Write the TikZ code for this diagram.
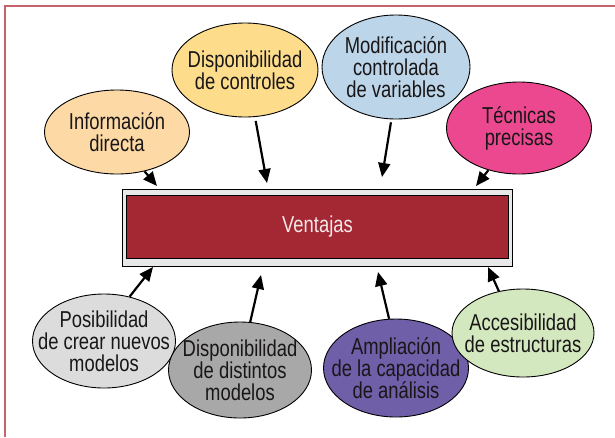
\documentclass[tikz,border=0pt]{standalone}
\usepackage{fontspec}
\setmainfont{Liberation Sans}[FakeStretch=0.8]
\usetikzlibrary{shapes.geometric,arrows.meta}
\definecolor{framered}{RGB}{200,98,110}
\definecolor{txtc}{RGB}{25,22,23}
\definecolor{cInfo}{RGB}{253,218,165}
\definecolor{cDispc}{RGB}{253,221,140}
\definecolor{cModif}{RGB}{189,213,232}
\definecolor{cTecn}{RGB}{236,72,143}
\definecolor{cPosib}{RGB}{220,220,220}
\definecolor{cDispd}{RGB}{168,168,168}
\definecolor{cAmpl}{RGB}{111,94,168}
\definecolor{cAcces}{RGB}{212,232,192}
\definecolor{cBoxOut}{RGB}{232,232,232}
\definecolor{cBoxIn}{RGB}{163,40,52}
\definecolor{cVent}{RGB}{245,232,232}
\begin{document}
\begin{tikzpicture}[x=1pt,y=-1pt,
  ell/.style={ellipse,draw=black,line width=0.9pt,inner sep=0pt},
  txt/.style={align=center,text=txtc,inner sep=0pt,font=\fontsize{23}{22}\selectfont},
  arr/.style={line width=2.2pt,-{Triangle[length=14pt,width=12pt]}}
]
\useasboundingbox (0,0) rectangle (615,437);
% frame
\draw[framered,line width=2pt] (4.5,437) -- (4.5,5.5) -- (615,5.5);
% main box
\node[draw=black,line width=0.8pt,fill=cBoxOut,minimum width=390pt,minimum height=77pt,inner sep=0pt] (box) at (317,227.5) {};
\node[draw=black,line width=0.8pt,fill=cBoxIn,minimum width=382pt,minimum height=63pt,inner sep=0pt,text=cVent,font=\fontsize{23}{22}\selectfont] (vent) at (317.5,226.5) {Ventajas};
% ellipses
\node[ell,fill=cInfo,minimum width=145pt,minimum height=84pt] (info) at (117,132) {};
\node[txt] at (info) {Información\\directa};
\node[ell,fill=cDispc,minimum width=146pt,minimum height=94pt] (dispc) at (245,70) {};
\node[txt] at (dispc) {Disponibilidad\\de controles};
\node[ell,fill=cModif,minimum width=148pt,minimum height=104pt] (modif) at (396,67) {};
\node[txt] at (modif) {Modificación\\controlada\\de variables};
\node[ell,fill=cTecn,minimum width=145pt,minimum height=92pt] (tecn) at (519,128) {};
\node[txt] at (tecn) {Técnicas\\precisas};
\node[ell,fill=cPosib,minimum width=143pt,minimum height=94pt] (posib) at (104,341) {};
\node[txt] at (posib) {Posibilidad\\de crear nuevos\\modelos};
\node[ell,fill=cDispd,minimum width=143pt,minimum height=96pt] (dispd) at (240,370) {};
\node[txt] at (dispd) {Disponibilidad\\de distintos\\modelos};
\node[ell,fill=cAmpl,minimum width=145pt,minimum height=98pt] (ampl) at (396,368) {};
\node[txt] at (ampl) {Ampliación\\de la capacidad\\de análisis};
\node[ell,fill=cAcces,minimum width=142pt,minimum height=88pt] (acces) at (523,333) {};
\node[txt] at (acces) {Accesibilidad\\de estructuras};
% arrow tips
\coordinate (t1) at (157,186);
\coordinate (t2) at (267,183);
\coordinate (t3) at (382,177);
\coordinate (t4) at (476,186);
\coordinate (b1) at (153,267);
\coordinate (b2) at (261,275);
\coordinate (b3) at (378,272);
\coordinate (b4) at (488,267);
% arrows
\draw[arr] (info.-55) -- (t1);
\draw[arr,shorten <=4pt] (dispc.-78) -- (t2);
\draw[arr,shorten <=3pt] (modif.-95) -- (t3);
\draw[arr] (tecn.-126) -- (t4);
\draw[arr] (posib.60) -- (b1);
\draw[arr] (dispd.78) -- (b2);
\draw[arr] (ampl.98) -- (b3);
\draw[arr] (acces.120) -- (b4);
\end{tikzpicture}
\end{document}
